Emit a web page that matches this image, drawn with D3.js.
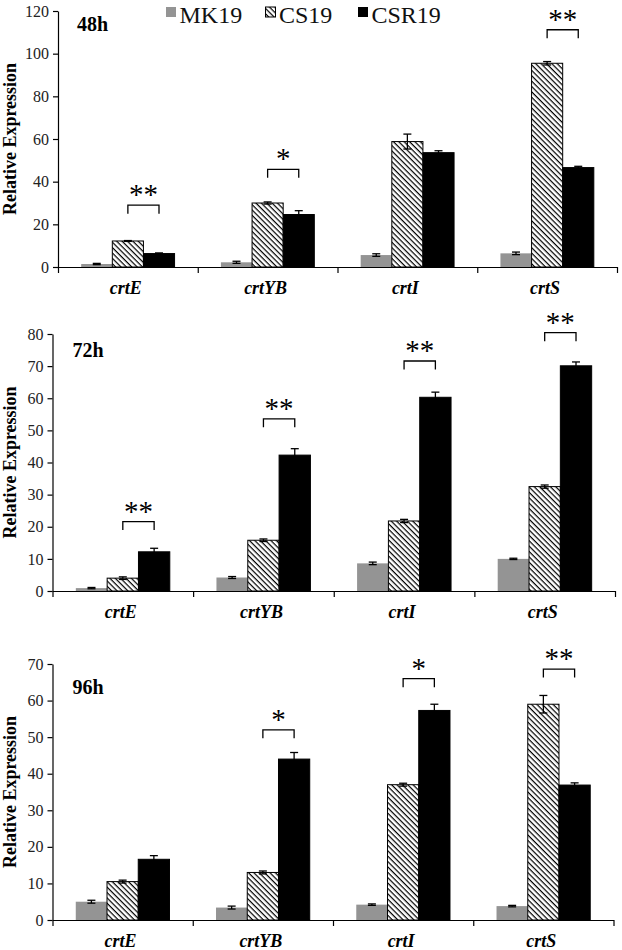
<!DOCTYPE html>
<html>
<head>
<meta charset="utf-8">
<script src="https://cdn.jsdelivr.net/npm/d3@7"></script>
<style>
  html, body { margin: 0; padding: 0; background: #fff; }
  svg { display: block; }
</style>
</head>
<body>
<svg id="chart" width="622" height="950"></svg>
<script>
// ---------------- DATA ----------------
const genes = ["crtE", "crtYB", "crtI", "crtS"];
const seriesNames = ["MK19", "CS19", "CSR19"];

// 48h
const mk19_48 = [1.4, 2.2, 5.6, 6.4];
const mk19_48Err = [0.3, 0.5, 0.6, 0.6];
const cs19_48 = [12.2, 30.0, 58.8, 95.5];
const cs19_48Err = [0.2, 0.5, 3.5, 0.8];
const csr19_48 = [6.3, 24.6, 53.6, 46.6];
const csr19_48Err = [0.3, 1.8, 0.9, 0.6];

// 72h
const mk19_72 = [0.9, 4.2, 8.6, 10.0];
const mk19_72Err = [0.2, 0.3, 0.4, 0.2];
const cs19_72 = [4.0, 15.8, 21.8, 32.5];
const cs19_72Err = [0.4, 0.4, 0.5, 0.5];
const csr19_72 = [12.2, 42.3, 60.3, 70.1];
const csr19_72Err = [1.1, 2.0, 1.6, 1.2];

// 96h
const mk19_96 = [5.0, 3.4, 4.2, 3.8];
const mk19_96Err = [0.4, 0.4, 0.2, 0.2];
const cs19_96 = [10.5, 13.0, 37.0, 59.0];
const cs19_96Err = [0.4, 0.4, 0.4, 2.4];
const csr19_96 = [16.6, 44.0, 57.3, 36.9];
const csr19_96Err = [1.0, 1.8, 1.7, 0.6];

// y-axis tick values
const ticks48 = [0, 20, 40, 60, 80, 100, 120];
const ticks72 = [0, 10, 20, 30, 40, 50, 60, 70, 80];
const ticks96 = [0, 10, 20, 30, 40, 50, 60, 70];

// significance brackets (gene, label, bracket height in data units)
const sig48 = [["crtE", "**", 29.0], ["crtYB", "*", 45.8], ["crtS", "**", 111.2]];
const sig72 = [["crtE", "**", 21.6], ["crtYB", "**", 53.6], ["crtI", "**", 71.6], ["crtS", "**", 80.4]];
const sig96 = [["crtYB", "*", 52.0], ["crtI", "*", 66.0], ["crtS", "**", 68.6]];

// ---------------- LAYOUT ----------------
const panels = [
  { title: "48h", vals: [mk19_48, cs19_48, csr19_48], errs: [mk19_48Err, cs19_48Err, csr19_48Err],
    ticks: ticks48, sig: sig48, left: 58, right: 617, top: 11, bottom: 267, titleDx: 19, titleDy: 20 },
  { title: "72h", vals: [mk19_72, cs19_72, csr19_72], errs: [mk19_72Err, cs19_72Err, csr19_72Err],
    ticks: ticks72, sig: sig72, left: 52.5, right: 615, top: 334, bottom: 591, titleDx: 20, titleDy: 23 },
  { title: "96h", vals: [mk19_96, cs19_96, csr19_96], errs: [mk19_96Err, cs19_96Err, csr19_96Err],
    ticks: ticks96, sig: sig96, left: 52.5, right: 613.5, top: 664, bottom: 920, titleDx: 20, titleDy: 30 }
];

const SERIF = "'Liberation Serif','Times New Roman',Times,serif";
const GRAY = "#949494";

const svg = d3.select("#chart");
svg.append("rect").attr("width", 622).attr("height", 950).attr("fill", "#fff");

// hatch pattern
const defs = svg.append("defs");
const pat = defs.append("pattern")
  .attr("id", "hatch")
  .attr("patternUnits", "userSpaceOnUse")
  .attr("width", 3.8).attr("height", 3.8)
  .attr("patternTransform", "rotate(45)");
pat.append("rect").attr("width", 3.8).attr("height", 3.8).attr("fill", "#fff");
pat.append("line").attr("x1", 0).attr("y1", 0.6).attr("x2", 3.8).attr("y2", 0.6)
  .attr("stroke", "#000").attr("stroke-width", 1.25);

const fills = [GRAY, "url(#hatch)", "#000"];
const strokes = ["none", "#000", "#000"];

panels.forEach(p => {
  const g = svg.append("g");
  const ymax = p.ticks[p.ticks.length - 1];
  const y = d3.scaleLinear().domain([0, ymax]).range([p.bottom, p.top]);
  const x0 = d3.scaleBand().domain(genes).range([p.left, p.right]).paddingInner(0).paddingOuter(0);
  const x1 = d3.scaleBand().domain(seriesNames).range([0, x0.bandwidth()]).paddingInner(0).paddingOuter(0.745);

  // bars
  seriesNames.forEach((s, si) => {
    g.append("g").selectAll("rect").data(genes).join("rect")
      .attr("x", d => x0(d) + x1(s))
      .attr("y", (d, i) => y(p.vals[si][i]))
      .attr("width", x1.bandwidth())
      .attr("height", (d, i) => y(0) - y(p.vals[si][i]))
      .attr("fill", fills[si])
      .attr("stroke", strokes[si])
      .attr("stroke-width", 1);
  });

  // error bars
  seriesNames.forEach((s, si) => {
    genes.forEach((gn, i) => {
      const cx = x0(gn) + x1(s) + x1.bandwidth() / 2;
      const v = p.vals[si][i], e = p.errs[si][i];
      const eg = g.append("g").attr("stroke", "#000").attr("stroke-width", 1.3);
      eg.append("line").attr("x1", cx).attr("x2", cx).attr("y1", y(v - e)).attr("y2", y(v + e));
      eg.append("line").attr("x1", cx - 4).attr("x2", cx + 4).attr("y1", y(v + e)).attr("y2", y(v + e));
      eg.append("line").attr("x1", cx - 4).attr("x2", cx + 4).attr("y1", y(v - e)).attr("y2", y(v - e));
    });
  });

  // y axis
  const ya = g.append("g").attr("transform", `translate(${p.left},0)`)
    .call(d3.axisLeft(y).tickValues(p.ticks).tickSize(5).tickSizeOuter(0).tickPadding(4));
  ya.selectAll("path, line").attr("stroke", "#000").attr("stroke-width", 1.2);
  ya.selectAll("text").attr("font-family", SERIF).attr("font-size", 16).attr("fill", "#222");

  // x axis (ticks at band boundaries)
  const xb = d3.scaleLinear().domain([0, genes.length]).range([p.left, p.right]);
  const xa = g.append("g").attr("transform", `translate(0,${p.bottom})`)
    .call(d3.axisBottom(xb).tickValues(d3.range(genes.length + 1)).tickFormat("").tickSize(6).tickSizeOuter(0));
  xa.selectAll("path, line").attr("stroke", "#000").attr("stroke-width", 1.2);

  // category labels
  g.append("g").selectAll("text").data(genes).join("text")
    .attr("x", d => x0(d) + x0.bandwidth() / 2 - 2)
    .attr("y", p.bottom + 27)
    .attr("text-anchor", "middle")
    .attr("font-family", SERIF).attr("font-size", 18)
    .attr("font-weight", "bold").attr("font-style", "italic")
    .text(d => d);

  // y label
  g.append("text")
    .attr("transform", `translate(16,${(p.top + p.bottom) / 2}) rotate(-90)`)
    .attr("text-anchor", "middle")
    .attr("font-family", SERIF).attr("font-size", 18).attr("font-weight", "bold")
    .text("Relative Expression");

  // title
  g.append("text")
    .attr("x", p.left + p.titleDx).attr("y", p.top + p.titleDy)
    .attr("font-family", SERIF).attr("font-size", 20).attr("font-weight", "bold")
    .text(p.title);

  // significance brackets
  p.sig.forEach(([gn, lab, h]) => {
    const xa1 = x0(gn) + x1("CS19") + x1.bandwidth() / 2;
    const xa2 = x0(gn) + x1("CSR19") + x1.bandwidth() / 2;
    const yt = y(h);
    g.append("path")
      .attr("d", `M${xa1},${yt + 8.5}V${yt}H${xa2}V${yt + 8.5}`)
      .attr("fill", "none").attr("stroke", "#000").attr("stroke-width", 1.3);
    g.append("text")
      .attr("x", (xa1 + xa2) / 2).attr("y", yt - 1)
      .attr("text-anchor", "middle")
      .attr("font-family", SERIF).attr("font-size", 29)
      .text(lab);
  });
});

// legend
const legendX = [166, 265.5, 358];
const lg = svg.append("g");
seriesNames.forEach((s, i) => {
  lg.append("rect").attr("x", legendX[i]).attr("y", 7).attr("width", 10).attr("height", 10)
    .attr("fill", fills[i]).attr("stroke", i === 1 ? "#000" : "none").attr("stroke-width", 1);
  lg.append("text").attr("x", legendX[i] + 13.5).attr("y", 22.5)
    .attr("font-family", SERIF).attr("font-size", 24).attr("fill", "#111")
    .text(s);
});
</script>
</body>
</html>
